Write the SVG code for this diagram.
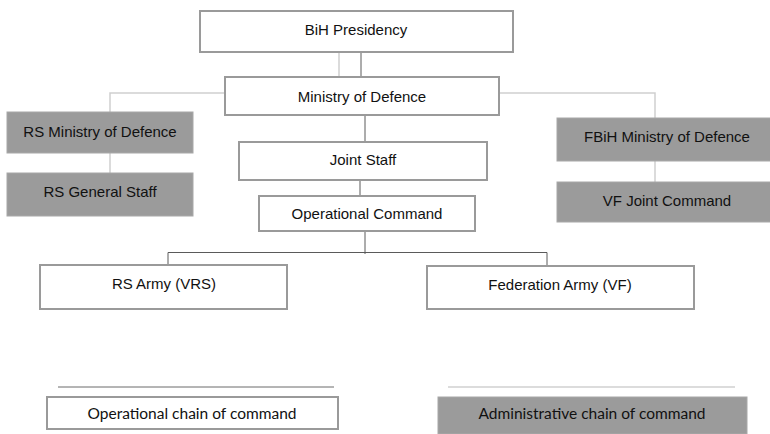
<svg xmlns="http://www.w3.org/2000/svg" width="770" height="434" viewBox="0 0 770 434">
<style>
.op{fill:#fff;stroke:#9a9a9a;stroke-width:2}
.ad{fill:#9b9b9b;stroke:#a8a8a8;stroke-width:1}
.t{font-family:"Liberation Sans",Arial,sans-serif;font-size:15px;fill:#111;text-anchor:middle;dominant-baseline:central}
.lg{font-family:Lato,"Liberation Sans",sans-serif;font-size:15.5px;fill:#111;text-anchor:middle;dominant-baseline:central}
.cop{stroke:#5a5a5a;stroke-width:1;fill:none}
.cad{stroke:#cfcfcf;stroke-width:1.5;fill:none}
</style>
<rect width="770" height="434" fill="#fff"/>
<g id="connectors">
<line class="cad" x1="339" y1="52" x2="339" y2="77"/>
<line class="cop" x1="361" y1="52" x2="361" y2="77"/>
<polyline class="cad" points="110,112 110,93 225,93"/>
<polyline class="cad" points="499,93 655,93 655,118"/>
<line class="cad" x1="110" y1="153" x2="110" y2="173"/>
<line class="cad" x1="655" y1="161" x2="655" y2="182"/>
<line class="cop" x1="365" y1="115" x2="365" y2="142"/>
<line class="cop" x1="360" y1="180" x2="360" y2="196"/>
<line class="cop" x1="365" y1="231" x2="365" y2="254"/>
<polyline class="cop" points="168,265 168,252.5 547,252.5 547,266"/>
</g>
<g id="bih-presidency"><rect class="op" x="200" y="11" width="313" height="41"/><text class="t" x="356" y="29">BiH Presidency</text></g>
<g id="ministry-of-defence"><rect class="op" x="225" y="77" width="274" height="38"/><text class="t" x="362" y="96">Ministry of Defence</text></g>
<g id="rs-ministry"><rect class="ad" x="7" y="112" width="186" height="41"/><text class="t" x="100" y="131">RS Ministry of Defence</text></g>
<g id="rs-general-staff"><rect class="ad" x="7" y="173" width="186" height="43"/><text class="t" x="100" y="191">RS General Staff</text></g>
<g id="fbih-ministry"><rect class="ad" x="557" y="118" width="215" height="43"/><text class="t" x="667" y="136">FBiH Ministry of Defence</text></g>
<g id="vf-joint-command"><rect class="ad" x="557" y="182" width="215" height="40"/><text class="t" x="667" y="200">VF Joint Command</text></g>
<g id="joint-staff"><rect class="op" x="239" y="142" width="248" height="38"/><text class="t" x="363" y="159">Joint Staff</text></g>
<g id="operational-command"><rect class="op" x="259" y="196" width="216" height="35"/><text class="t" x="367" y="213">Operational Command</text></g>
<g id="rs-army"><rect class="op" x="40" y="265" width="247" height="44"/><text class="t" x="164" y="283">RS Army (VRS)</text></g>
<g id="federation-army"><rect class="op" x="427" y="266" width="267" height="43"/><text class="t" x="560" y="284">Federation Army (VF)</text></g>
<g id="legend">
<line x1="58" y1="387" x2="334" y2="387" stroke="#6a6a6a" stroke-width="1"/>
<line x1="448" y1="387" x2="735" y2="387" stroke="#d0d0d0" stroke-width="1.5"/>
<g id="legend-operational"><rect class="op" x="47" y="397" width="291" height="32"/><text class="lg" x="192" y="413">Operational chain of command</text></g>
<g id="legend-administrative"><rect class="ad" x="438" y="397" width="309" height="37" stroke="none"/><text class="lg" x="592" y="413">Administrative chain of command</text></g>
</g>
</svg>
